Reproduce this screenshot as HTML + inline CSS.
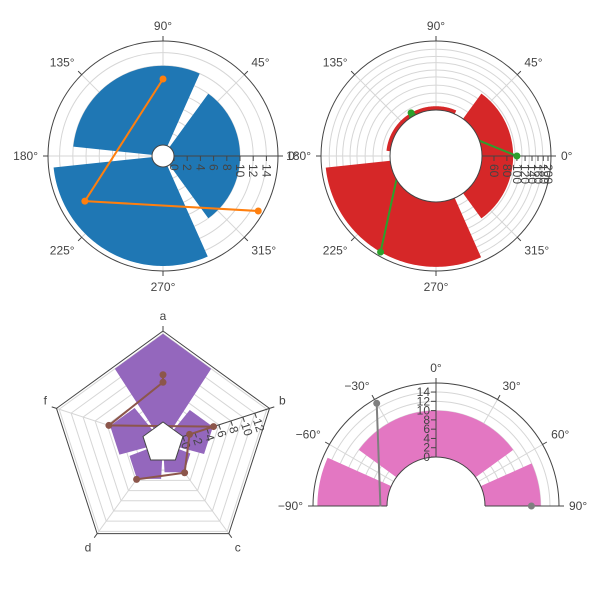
<!DOCTYPE html>
<html><head><meta charset="utf-8"><title>Polar subplots</title>
<style>
html,body{margin:0;padding:0;background:#fff;}
svg{display:block;font-family:"Liberation Sans",sans-serif;}
text{fill:#444;font-size:12px;}
</style></head>
<body>
<svg id="chart" width="600" height="600" viewBox="0 0 600 600" xmlns="http://www.w3.org/2000/svg">
<defs>
<clipPath id="clip4"><rect x="0" y="300" width="600" height="206.5"/></clipPath>
</defs>
</svg>
<script>
// ---------- data ----------
const p1BarTheta=[0,120,240];
const p1BarR=[10,12,15];
const p1LineTheta=[90,210,330];
const p1LineR=[10,12,15];
const p1Ticks=[0,2,4,6,8,10,12,14];

const p2BarTheta=[0,120,240];
const p2BarR=[92,50,195];
const p2LineTheta=[0,120,240];
const p2LineR=[100,50,195];
const p2GridVals=[55,67,80,96,112,132,152,178];
const p2TickVals=[60,80,100,120,140,160,180,200];
const p2TickText=["60","80","100","120","140","160","180","200"];

const p3Cats=["a","b","c","d","f"];
const p3BarCats=["a","b","c","d","f"];
const p3BarR=[14,5,2.4,3.7,5.5];
const p3LineCats=["a","a","f","b","b","c","d"];
const p3LineR=[7.5,6.3,5.7,5.1,1.1,2.5,3.8];
const p3Ticks=[0,2,4,6,8,10,12];

const p4BarTheta=[0,120,240];
const p4BarR=[10,12,15];
const p4LineTheta=[90,210,330];
const p4LineR=[10,12,15];
const p4Ticks=[0,2,4,6,8,10,12,14];

// ---------- helpers ----------
const NS='http://www.w3.org/2000/svg';
const svg=document.getElementById('chart');
function mk(tag,attrs,parent){const e=document.createElementNS(NS,tag);for(const k in attrs)e.setAttribute(k,attrs[k]);(parent||svg).appendChild(e);return e;}
const rad=d=>d*Math.PI/180;
function pt(cx,cy,r,a){return [cx+r*Math.cos(rad(a)),cy-r*Math.sin(rad(a))];}
function arcPts(cx,cy,r,a0,a1,fn){const pts=[];const n=Math.max(2,Math.ceil(Math.abs(a1-a0)));for(let i=0;i<=n;i++){const a=a0+(a1-a0)*i/n;pts.push(pt(cx,cy,fn?fn(r,a):r,a));}return pts;}
function wedge(cx,cy,r0,r1,a0,a1,fn){const o=arcPts(cx,cy,r1,a0,a1,fn);const i=arcPts(cx,cy,r0,a1,a0,fn);return 'M'+o.concat(i).map(p=>p[0].toFixed(2)+','+p[1].toFixed(2)).join('L')+'Z';}
function label(x,y,txt,anchor,base,g){const t=mk('text',{x:x,y:y,'text-anchor':anchor,'dominant-baseline':base},g);t.textContent=txt;return t;}
function angLabel(cx,cy,R,a,txt,g){const c=Math.cos(rad(a)),s=Math.sin(rad(a));const p=pt(cx,cy,R+10,a);
  const anc=c>0.3?'start':(c<-0.3?'end':'middle');let y=p[1];if(s>0.3)y-=1;else if(s<-0.3)y+=10;else y+=4;
  return label(p[0],y,txt,anc,'auto',g);}

// ---------- polar 1 ----------
(function(){
const cx=163,cy=156,hole=11,k=6.6,R=115;
const rp=v=>hole+v*k;
const g=mk('g',{});


for(const v of p1Ticks.slice(1)){const c=mk('circle',{cx:cx,cy:cy,r:rp(v),fill:'none',stroke:'#d6d6d6','stroke-width':1},g);

}
for(let a=0;a<360;a+=45){const p0=pt(cx,cy,hole,a),p1=pt(cx,cy,R,a);const l=mk('line',{x1:p0[0],y1:p0[1],x2:p1[0],y2:p1[1],stroke:'#d6d6d6'},g);

}
p1BarTheta.forEach((t,i)=>{const b=mk('path',{d:wedge(cx,cy,hole,rp(p1BarR[i]),t-54,t+54),fill:'#1f77b4'},g);

});
const oc=mk('circle',{cx:cx,cy:cy,r:R,fill:'none',stroke:'#444','stroke-width':1},g);


for(let a=0;a<360;a+=45){const p0=pt(cx,cy,R,a),p1=pt(cx,cy,R+5,a);mk('line',{x1:p0[0],y1:p0[1],x2:p1[0],y2:p1[1],stroke:'#444'},g);
const t=angLabel(cx,cy,R,a,a+'°',g);

}
const ax=mk('line',{x1:cx+hole,y1:cy,x2:cx+R+4,y2:cy,stroke:'#444'},g);


for(const v of p1Ticks){const x=cx+rp(v);mk('line',{x1:x,y1:cy,x2:x,y2:cy+5,stroke:'#444'},g);
const t=mk('text',{transform:`translate(${x-4},${cy+8}) rotate(90)`,'text-anchor':'start'},g);t.textContent=v;

}
const pts=p1LineTheta.map((t,i)=>pt(cx,cy,rp(p1LineR[i]),t));
const ln=mk('polyline',{points:pts.map(p=>p.join(',')).join(' '),fill:'none',stroke:'#ff7f0e','stroke-width':2},g);


pts.forEach(p=>{const m=mk('circle',{cx:p[0],cy:p[1],r:3.5,fill:'#ff7f0e'},g);

});
const h=mk('circle',{cx:cx,cy:cy,r:hole,fill:'#fff',stroke:'#444'},g);


})();

// ---------- polar 2 ----------
(function(){
const cx=436,cy=156,hole=46,R=115;
const A=-125.7,B=103.3;
const rp=v=>A+B*Math.log10(v);
const g=mk('g',{});


for(const v of p2GridVals){const c=mk('circle',{cx:cx,cy:cy,r:rp(v),fill:'none',stroke:'#d6d6d6'},g);

}
for(let a=0;a<360;a+=45){const p0=pt(cx,cy,hole,a),p1=pt(cx,cy,R,a);const l=mk('line',{x1:p0[0],y1:p0[1],x2:p1[0],y2:p1[1],stroke:'#d6d6d6'},g);

}
p2BarTheta.forEach((t,i)=>{const b=mk('path',{d:wedge(cx,cy,hole,rp(p2BarR[i]),t-54,t+54),fill:'#d62728'},g);

});
const oc=mk('circle',{cx:cx,cy:cy,r:R,fill:'none',stroke:'#444'},g);


for(let a=0;a<360;a+=45){const p0=pt(cx,cy,R,a),p1=pt(cx,cy,R+5,a);mk('line',{x1:p0[0],y1:p0[1],x2:p1[0],y2:p1[1],stroke:'#444'},g);
const t=angLabel(cx,cy,R,a,a+'°',g);

}
const ax=mk('line',{x1:cx+hole,y1:cy,x2:cx+R+4,y2:cy,stroke:'#444'},g);


p2TickVals.forEach((v,i)=>{const x=cx+rp(v);mk('line',{x1:x,y1:cy,x2:x,y2:cy+5,stroke:'#444'},g);
const t=mk('text',{transform:`translate(${x-4},${cy+8}) rotate(90)`,'text-anchor':'start'},g);t.textContent=p2TickText[i];

});
const pts=p2LineTheta.map((t,i)=>pt(cx,cy,rp(p2LineR[i]),t));
const ln=mk('polyline',{points:pts.map(p=>p.join(',')).join(' '),fill:'none',stroke:'#2ca02c','stroke-width':2},g);


const h=mk('circle',{cx:cx,cy:cy,r:hole,fill:'#fff',stroke:'#444'},g);


pts.forEach(p=>{const m=mk('circle',{cx:p[0],cy:p[1],r:3.5,fill:'#2ca02c'},g);

});
})();

// ---------- polar 3 (pentagon) ----------
(function(){
const cx=163,cy=443,hole=21,k=6.3,R=112;
const rp=v=>hole+v*k;
const catAng=c=>90-72*p3Cats.indexOf(c);
const poly=(r,a)=>{let d=(((a-90)%72)+72)%72;const D=d-36;return r*Math.cos(rad(36))/Math.cos(rad(D));};
const polyPts=r=>p3Cats.map(c=>pt(cx,cy,r,catAng(c)));
const g=mk('g',{});


for(const v of [2,4,6,8,10,12,14]){const p=mk('polygon',{points:polyPts(rp(v)).map(q=>q.join(',')).join(' '),fill:'none',stroke:'#d6d6d6'},g);

}
p3Cats.forEach(c=>{const a=catAng(c);const p0=pt(cx,cy,hole,a),p1=pt(cx,cy,R,a);const l=mk('line',{x1:p0[0],y1:p0[1],x2:p1[0],y2:p1[1],stroke:'#d6d6d6'},g);

});
p3BarCats.forEach((c,i)=>{const a=catAng(c);const b=mk('path',{d:wedge(cx,cy,hole,rp(p3BarR[i]),a-33,a+33,poly),fill:'#9467bd'},g);

});
const op=mk('polygon',{points:polyPts(R).map(q=>q.join(',')).join(' '),fill:'none',stroke:'#444'},g);


p3Cats.forEach(c=>{const a=catAng(c);const p0=pt(cx,cy,R,a),p1=pt(cx,cy,R+5,a);mk('line',{x1:p0[0],y1:p0[1],x2:p1[0],y2:p1[1],stroke:'#444'},g);
const t=angLabel(cx,cy,R,a,c,g);

});
const ba=catAng('b');
const a0=pt(cx,cy,hole,ba),a1=pt(cx,cy,R,ba);
const ax=mk('line',{x1:a0[0],y1:a0[1],x2:a1[0],y2:a1[1],stroke:'#444'},g);


for(const v of p3Ticks){const p=pt(cx,cy,rp(v),ba);const q=pt(p[0],p[1],5,ba-90);
mk('line',{x1:p[0],y1:p[1],x2:q[0],y2:q[1],stroke:'#444'},g);
const t=mk('text',{transform:`translate(${p[0]-2},${p[1]+7}) rotate(72)`,'text-anchor':'start'},g);t.textContent=v;

}
const pts=p3LineCats.map((c,i)=>pt(cx,cy,rp(p3LineR[i]),catAng(c)));
const ln=mk('polyline',{points:pts.map(p=>p.join(',')).join(' '),fill:'none',stroke:'#8c564b','stroke-width':2},g);


const h=mk('polygon',{points:polyPts(hole).map(q=>q.join(',')).join(' '),fill:'#fff',stroke:'#444'},g);


pts.forEach(p=>{const m=mk('circle',{cx:p[0],cy:p[1],r:3.5,fill:'#8c564b'},g);

});
})();

// ---------- polar 4 (half) ----------
(function(){
const cx=436,cy=506,hole=49,k=4.64,R=123;
const rp=v=>hole+v*k;
const sa=t=>90-t;
const g=mk('g',{});


const gc=mk('g',{'clip-path':'url(#clip4)'},g);
for(const v of p4Ticks.slice(1)){const c=mk('circle',{cx:cx,cy:cy,r:rp(v),fill:'none',stroke:'#d6d6d6'},gc);

}
for(const t of [-60,-30,30,60]){const p0=pt(cx,cy,hole,sa(t)),p1=pt(cx,cy,R,sa(t));const l=mk('line',{x1:p0[0],y1:p0[1],x2:p1[0],y2:p1[1],stroke:'#d6d6d6'},gc);

}
p4BarTheta.forEach((t,i)=>{const b=mk('path',{d:wedge(cx,cy,hole,rp(p4BarR[i]),sa(t)-54,sa(t)+54),fill:'#e377c2'},gc);

});
const oa=mk('path',{d:'M'+(cx-R)+','+cy+' A'+R+','+R+' 0 0 1 '+(cx+R)+','+cy,fill:'none',stroke:'#444'},g);


const ha=mk('path',{d:'M'+(cx-hole)+','+cy+' A'+hole+','+hole+' 0 0 1 '+(cx+hole)+','+cy,fill:'none',stroke:'#444'},g);


const e1=mk('line',{x1:cx-R-5,y1:cy,x2:cx-hole,y2:cy,stroke:'#444'},g);


const e2=mk('line',{x1:cx+hole,y1:cy,x2:cx+R+5,y2:cy,stroke:'#444'},g);


for(let t=-90;t<=90;t+=30){const p0=pt(cx,cy,R,sa(t)),p1=pt(cx,cy,R+5,sa(t));mk('line',{x1:p0[0],y1:p0[1],x2:p1[0],y2:p1[1],stroke:'#444'},g);
const tx=angLabel(cx,cy,R,sa(t),(t<0?'−'+(-t):t)+'°',g);

}
const ax=mk('line',{x1:cx,y1:cy-hole,x2:cx,y2:cy-R,stroke:'#444'},g);


for(const v of p4Ticks){const y=cy-rp(v);mk('line',{x1:cx-5,y1:y,x2:cx,y2:y,stroke:'#444'},g);
const t=label(cx-6,y+4,v,'end','auto',g);

}
const pts=p4LineTheta.map((t,i)=>pt(cx,cy,rp(p4LineR[i]),sa(t)));
const ln=mk('polyline',{points:pts.map(p=>p.join(',')).join(' '),fill:'none',stroke:'#7f7f7f','stroke-width':2,'clip-path':'url(#clip4)'},g);


p4LineTheta.forEach((t,i)=>{if(Math.abs(((t+180)%360)-180)>90)return;const p=pts[i];const m=mk('circle',{cx:p[0],cy:p[1],r:3.5,fill:'#7f7f7f'},g);

});
})();
</script>
</body></html>
